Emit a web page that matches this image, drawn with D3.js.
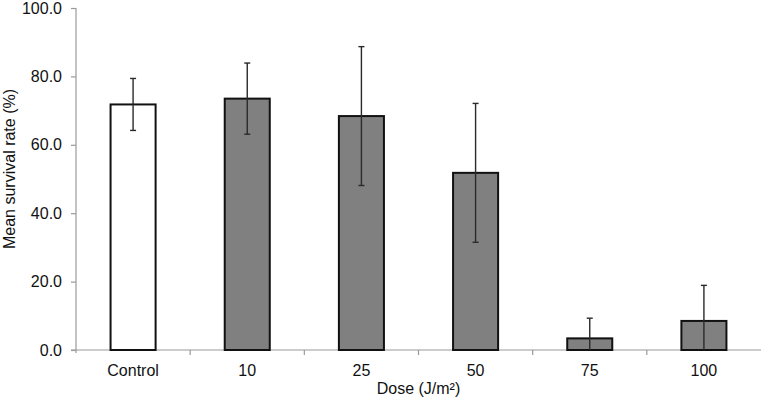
<!DOCTYPE html>
<html>
<head>
<meta charset="utf-8">
<script src="https://cdn.jsdelivr.net/npm/d3@7"></script>
<style>
  html, body { margin: 0; padding: 0; background: #fff; }
  svg { display: block; font-family: "Liberation Sans", Arial, sans-serif; }
</style>
</head>
<body>
<svg id="chart" width="761" height="401"></svg>
<script>
const categories = ["Control", "10", "25", "50", "75", "100"];
const means = [71.8, 73.5, 68.4, 51.8, 3.4, 8.5];
const errors = [7.6, 10.4, 20.3, 20.3, 5.9, 10.4];
const yTicks = [0, 20, 40, 60, 80, 100];

const svg = d3.select("#chart");
const mLeft = 76, mRight = 761, mTop = 8, mBottom = 350;
const fs = "16px";

const x = d3.scaleBand().domain(categories).range([mLeft, mRight])
  .paddingInner(0.588).paddingOuter(0.294);
const y = d3.scaleLinear().domain([0, 100]).range([mBottom, mTop]);

// y axis
const yAxis = d3.axisLeft(y).tickValues(yTicks).tickFormat(d3.format(".1f")).tickSize(5).tickPadding(9);
const gy = svg.append("g").attr("transform", `translate(${mLeft},0)`).call(yAxis);
gy.select(".domain").attr("stroke", "#9a9a9a").attr("stroke-width", 1.2).attr("d", `M0,${mTop}V${mBottom + 3}`);
gy.selectAll(".tick line").attr("stroke", "#9a9a9a").attr("stroke-width", 1.2);
gy.selectAll(".tick text").attr("fill", "#111").style("font-size", fs).style("font-family", "'Liberation Sans', Arial, sans-serif");

// x axis line
svg.append("line").attr("x1", mLeft - 5).attr("x2", mRight).attr("y1", mBottom).attr("y2", mBottom)
  .attr("stroke", "#9a9a9a").attr("stroke-width", 1.2);
// x boundary ticks
const step = x.step();
svg.selectAll(".xb").data(categories.slice(1)).enter().append("line")
  .attr("x1", d => x(d) - (step - x.bandwidth()) / 2)
  .attr("x2", d => x(d) - (step - x.bandwidth()) / 2)
  .attr("y1", mBottom).attr("y2", mBottom + 5)
  .attr("stroke", "#9a9a9a").attr("stroke-width", 1.2);

// x labels
svg.selectAll(".xl").data(categories).enter().append("text")
  .attr("x", d => x(d) + x.bandwidth() / 2).attr("y", 376)
  .attr("text-anchor", "middle").attr("fill", "#111").style("font-size", fs)
  .text(d => d);

// bars
svg.selectAll(".bar").data(categories).enter().append("rect")
  .attr("x", d => x(d) + 1).attr("width", x.bandwidth() - 2)
  .attr("y", (d, i) => y(means[i])).attr("height", (d, i) => y(0) - y(means[i]))
  .attr("fill", (d, i) => i === 0 ? "#ffffff" : "#808080")
  .attr("stroke", "#111").attr("stroke-width", 2);

// error bars
const cap = 3;
categories.forEach((c, i) => {
  const cx = x(c) + x.bandwidth() / 2;
  const hi = means[i] + errors[i];
  const loRaw = means[i] - errors[i];
  const lo = Math.max(0, loRaw);
  const g = svg.append("g").attr("stroke", "#2a2a2a").attr("stroke-width", 1.4);
  g.append("line").attr("x1", cx).attr("x2", cx).attr("y1", y(hi)).attr("y2", y(lo));
  g.append("line").attr("x1", cx - cap).attr("x2", cx + cap).attr("y1", y(hi)).attr("y2", y(hi));
  if (loRaw > 0) {
    g.append("line").attr("x1", cx - cap).attr("x2", cx + cap).attr("y1", y(lo)).attr("y2", y(lo));
  }
});

// axis titles
svg.append("text").attr("x", (mLeft + mRight) / 2).attr("y", 394)
  .attr("text-anchor", "middle").attr("fill", "#111").style("font-size", fs)
  .text("Dose (J/m²)");
svg.append("text").attr("transform", "translate(15,169) rotate(-90)")
  .attr("text-anchor", "middle").attr("fill", "#111").style("font-size", fs)
  .text("Mean survival rate (%)");
</script>
</body>
</html>
